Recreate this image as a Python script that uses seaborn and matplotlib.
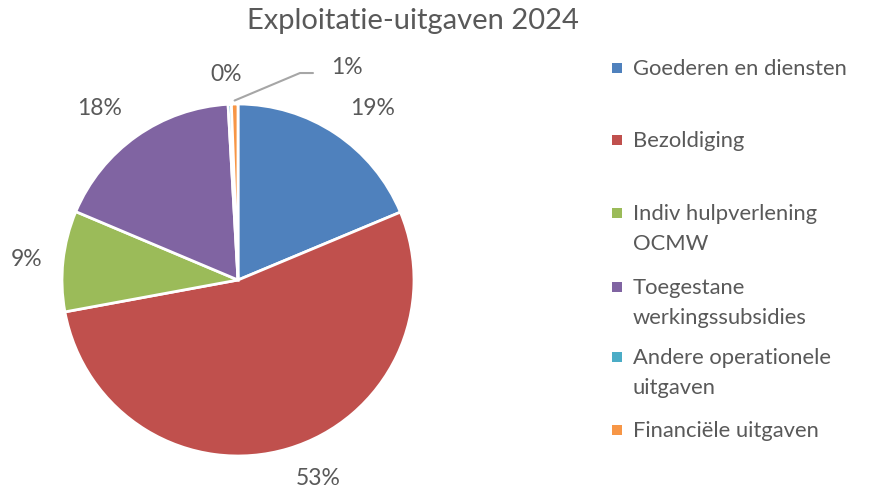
import numpy as np
import matplotlib
matplotlib.use("Agg")
import matplotlib.pyplot as plt
import seaborn as sns
from matplotlib.patches import Rectangle

categories = ["Goederen en diensten", "Bezoldiging", "Indiv hulpverlening OCMW",
              "Toegestane werkingssubsidies", "Andere operationele uitgaven",
              "Financiële uitgaven"]
legend_lines = [["Goederen en diensten"], ["Bezoldiging"], ["Indiv hulpverlening", "OCMW"],
                ["Toegestane", "werkingssubsidies"], ["Andere operationele", "uitgaven"],
                ["Financiële uitgaven"]]
values = [18.7, 53.4, 9.25, 17.75, 0.3, 0.6]
pct_labels = ["19%", "53%", "9%", "18%", "0%", "1%"]
colors = ["#4F81BD", "#C0504D", "#9BBB59", "#8064A2", "#4BACC6", "#F79646"]

sns.set_theme(style="white")
plt.rcParams['font.family'] = ['Lato', 'DejaVu Sans']
TXT = "#595959"

W, H = 877, 490
fig = plt.figure(figsize=(W / 100, H / 100), dpi=100)
cx, cy, r = 238, 280, 176
ax = fig.add_axes([(cx - r) / W, (H - cy - r) / H, 2 * r / W, 2 * r / H])
wedges, _ = ax.pie(values, colors=colors, startangle=90, counterclock=False,
                   wedgeprops=dict(edgecolor="white", linewidth=2))
ax.set_xlim(-1, 1)
ax.set_ylim(-1, 1)
ax.set_aspect("equal")
ax.axis("off")

# label placement (data units relative to pie centre), outside end like Excel
label_pos = [(0.767, 0.977), (0.455, -1.125), (-1.199, 0.114), (-0.784, 0.977),
             (-0.068, 1.165), (0.62, 1.21)]
PF = 16.5
for lab, (lx, ly) in zip(pct_labels, label_pos):
    ax.text(lx, ly, lab, ha="center", va="center", fontsize=PF, color=TXT, clip_on=False)

w = wedges[5]
ang = np.deg2rad((w.theta1 + w.theta2) / 2)
x0, y0 = 1.02 * np.cos(ang), 1.02 * np.sin(ang)
ax.plot([x0, 0.352, 0.426], [y0, 1.176, 1.176], color="#A6A6A6", lw=1.5, clip_on=False)

fig.text(413 / W, 1 - 21 / H, "Exploitatie-uitgaven 2024", ha="center", va="center",
         fontsize=21, color=TXT)

ys = [68, 140, 213, 287, 357, 430]
for lines, col, y in zip(legend_lines, colors, ys):
    fig.patches.append(Rectangle(((617 - 5) / W, (H - y - 5) / H), 10 / W, 10 / H,
                                 transform=fig.transFigure, facecolor=col, edgecolor="none"))
    for k, line in enumerate(lines):
        fig.text(633 / W, (H - y - 7 - 30 * k) / H, line, ha="left", va="baseline",
                 fontsize=15.8, color=TXT)

fig.savefig("out.png", dpi=100)
